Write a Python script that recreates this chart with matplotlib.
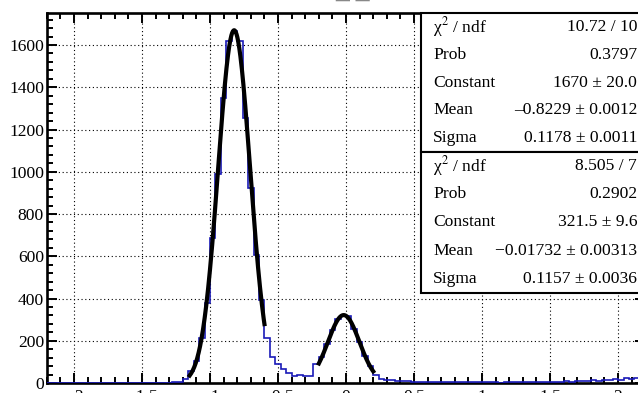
import numpy as np
import matplotlib.pyplot as plt
from matplotlib.patches import Rectangle
from matplotlib.ticker import MultipleLocator

plt.rcParams['font.family'] = ['Liberation Serif', 'DejaVu Serif']
plt.rcParams['mathtext.fontset'] = 'stix'

# histogram: 110 bins from -2.2 to 2.2
x_lo, x_hi, n_bins = -2.2, 2.2, 110
counts = [0] * 22 + [
    1, 3, 7, 19, 58, 106, 211, 377, 685, 990,
    1350, 1620, 1666, 1620, 1253, 925, 608, 392, 215, 125,
    88, 65, 48, 33, 38, 33, 33, 90, 125, 185,
    250, 302, 322, 318, 255, 195, 130, 82, 38, 20,
    14, 12,
    10, 8, 9, 6, 7, 5, 6, 4, 5, 6,
    4, 3, 5, 4, 3, 4, 3, 5, 3, 2,
    4, 3, 4, 5, 3, 4, 6, 5, 7, 5,
    6, 8, 7, 9, 8, 10, 12, 11, 15, 14,
    18, 16, 22, 20, 25, 22,
]

# gaussian fit results (constant, mean, sigma) and fit ranges
fit1 = (1670.0, -0.8229, 0.1178)
fit1_range = (-1.15, -0.60)
fit2 = (321.5, -0.01732, 0.1157)
fit2_range = (-0.20, 0.20)

stats1 = [
    ("\u03c7$^{2}$ / ndf", "10.72 / 10"),
    ("Prob", "0.3797"),
    ("Constant", "1670 \u00b1 20.0"),
    ("Mean", "\u20130.8229 \u00b1 0.0012"),
    ("Sigma", "0.1178 \u00b1 0.0011"),
]
stats2 = [
    ("\u03c7$^{2}$ / ndf", "8.505 / 7"),
    ("Prob", "0.2902"),
    ("Constant", "321.5 \u00b1 9.6"),
    ("Mean", "\u22120.01732 \u00b1 0.00313"),
    ("Sigma", "0.1157 \u00b1 0.0036"),
]


def gaus(x, c, m, s):
    return c * np.exp(-0.5 * ((x - m) / s) ** 2)


fig = plt.figure(figsize=(6.38, 3.93), dpi=100)
ax = fig.add_axes([0.0734, 0.02545, 0.938, 0.9402])

edges = np.linspace(x_lo, x_hi, n_bins + 1)
ax.stairs(counts, edges, color='#1a1ab8', linewidth=1.2, zorder=3)

for (c, m, s), (a, b) in [(fit1, fit1_range), (fit2, fit2_range)]:
    xs = np.linspace(a, b, 200)
    ax.plot(xs, gaus(xs, c, m, s), color='black', linewidth=3.0, zorder=4)

ax.set_xlim(x_lo, x_hi)
ax.set_ylim(0, 1.05 * max(counts))

ax.xaxis.set_major_locator(MultipleLocator(0.5))
ax.xaxis.set_minor_locator(MultipleLocator(0.1))
ax.yaxis.set_major_locator(MultipleLocator(200))
ax.yaxis.set_minor_locator(MultipleLocator(40))
ax.tick_params(which='both', direction='in', top=True, right=True,
               width=1.4, labelsize=12.6, colors='black')
ax.tick_params(which='major', length=7.5, pad=2)
ax.tick_params(which='minor', length=4.2)
ax.set_xticks(np.arange(-2, 2.01, 0.5))
ax.set_xticklabels(['\u22122', '\u22121.5', '\u22121', '\u22120.5', '0',
                    '0.5', '1', '1.5', '2'])
ax.tick_params(axis='x', pad=4)
ax.grid(True, which='major', color='black', linestyle=(0, (1, 2.4)),
        linewidth=0.8)
for sp in ax.spines.values():
    sp.set_linewidth(1.9)

# stat boxes (axes fraction)
box_left = 0.6254
box_tops = [1.0, 0.6265]
box_bots = [0.6265, 0.2436]
for stats, top, bot in zip([stats1, stats2], box_tops, box_bots):
    ax.add_patch(Rectangle((box_left, bot), 0.5, top - bot,
                           transform=ax.transAxes, facecolor='white',
                           edgecolor='black', linewidth=1.5,
                           clip_on=False, zorder=5))
    h = (top - bot) / len(stats)
    for i, (lab, val) in enumerate(stats):
        y = top - (i + 0.5) * h
        ax.text(0.6454, y, lab, transform=ax.transAxes, ha='left',
                va='center', fontsize=12.6, zorder=6)
        ax.text(0.9863, y, val, transform=ax.transAxes, ha='right',
                va='center', fontsize=12.6, zorder=6)

# title, mostly above the visible area
fig.text(353 / 638, 1 + 2 / 393, "_ _", ha='center', va='baseline',
         fontsize=20, color='#888888', fontweight='bold')

fig.savefig('out.png', dpi=100)
